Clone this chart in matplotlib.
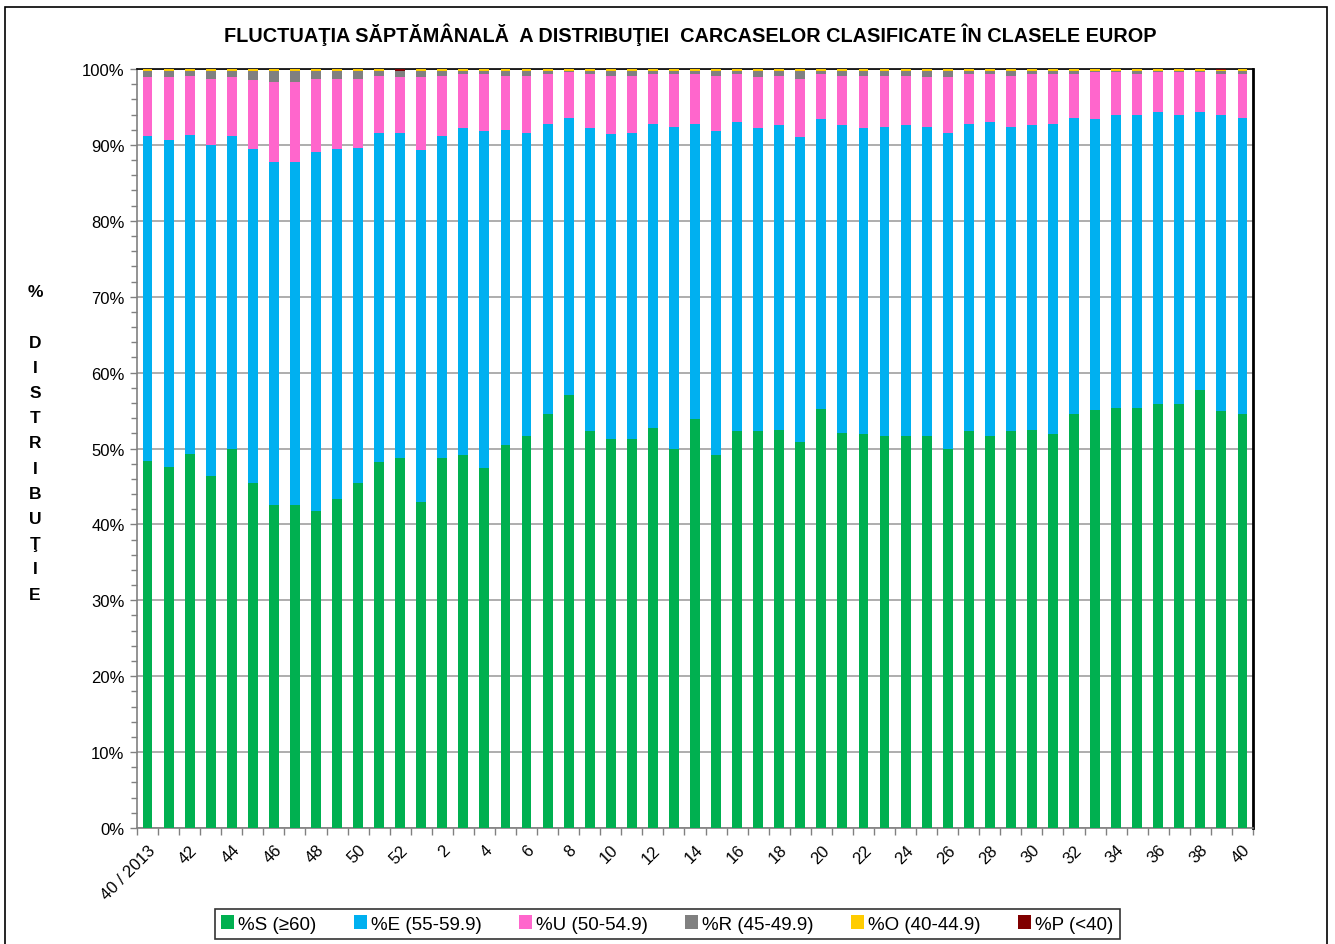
import matplotlib
matplotlib.use('Agg')
import matplotlib.pyplot as plt
import numpy as np
from matplotlib.patches import Rectangle
from matplotlib.ticker import MultipleLocator, FuncFormatter

plt.rcParams['font.family'] = ['Liberation Sans', 'DejaVu Sans']

# week labels: 40/2013 .. 52, then 1 .. 40 (2014)
weeks = [str(w) for w in range(40, 53)] + [str(w) for w in range(1, 41)]
weeks[0] = '40 / 2013'

pct_S = [48.4, 47.6, 49.3, 46.4, 50.0, 45.4, 42.6, 42.6, 41.8, 43.4,
         45.4, 48.2, 48.8, 43.0, 48.8, 49.2, 47.4, 50.4, 51.6, 54.5,
         57.1, 52.3, 51.2, 51.2, 52.7, 50.0, 53.9, 49.2, 52.3, 52.3,
         52.5, 50.9, 55.2, 52.1, 51.9, 51.6, 51.7, 51.6, 50.0, 52.3,
         51.6, 52.3, 52.5, 51.9, 54.5, 55.1, 55.3, 55.3, 55.9, 55.9,
         57.7, 54.9, 54.5]
pct_E = [42.8, 43.0, 42.0, 43.6, 41.2, 44.1, 45.2, 45.2, 47.2, 46.1,
         44.2, 43.4, 42.8, 46.3, 42.4, 43.0, 44.4, 41.6, 40.0, 38.3,
         36.5, 39.9, 40.2, 40.4, 40.1, 42.4, 38.9, 42.6, 40.7, 39.9,
         40.1, 40.1, 38.2, 40.5, 40.3, 40.8, 40.9, 40.8, 41.6, 40.5,
         41.4, 40.1, 40.1, 40.9, 39.1, 38.3, 38.7, 38.7, 38.4, 38.1,
         36.6, 39.1, 39.1]
pct_U = [7.7, 8.3, 7.8, 8.7, 7.7, 9.0, 10.5, 10.5, 9.7, 9.2,
         9.1, 7.5, 7.3, 9.6, 7.9, 7.1, 7.5, 7.1, 7.5, 6.5,
         6.0, 7.1, 7.7, 7.5, 6.5, 6.9, 6.5, 7.3, 6.3, 6.7,
         6.5, 7.7, 5.9, 6.5, 6.9, 6.7, 6.5, 6.5, 7.3, 6.5,
         6.3, 6.7, 6.7, 6.5, 5.7, 6.2, 5.6, 5.3, 5.3, 5.6,
         5.3, 5.3, 5.7]
pct_R = [0.8, 0.8, 0.7, 1.0, 0.8, 1.2, 1.4, 1.4, 1.0, 1.0,
         1.0, 0.7, 0.8, 0.8, 0.7, 0.5, 0.5, 0.7, 0.7, 0.5,
         0.2, 0.5, 0.7, 0.7, 0.5, 0.5, 0.5, 0.7, 0.5, 0.8,
         0.7, 1.0, 0.5, 0.7, 0.7, 0.7, 0.7, 0.8, 0.8, 0.5,
         0.5, 0.7, 0.5, 0.5, 0.5, 0.2, 0.2, 0.5, 0.2, 0.2,
         0.2, 0.5, 0.5]
pct_O = [0.3] * 53
pct_O[12] = 0.1
pct_O[51] = 0.1
pct_P = [0.0] * 53
pct_P[12] = 0.2
pct_P[51] = 0.2

series = [
    ('%S (≥60)', pct_S, '#00B050'),
    ('%E (55-59.9)', pct_E, '#00B0F0'),
    ('%U (50-54.9)', pct_U, '#FF66CC'),
    ('%R (45-49.9)', pct_R, '#808080'),
    ('%O (40-44.9)', pct_O, '#FFCC00'),
    ('%P (<40)', pct_P, '#800000'),
]

fig = plt.figure(figsize=(13.35, 9.45), dpi=100)
ax = fig.add_axes([137 / 1335, 1 - 829 / 945, (1253 - 137) / 1335, (829 - 70) / 945])

x = np.arange(len(weeks))
bottom = np.zeros(len(weeks))
for label, vals, color in series:
    vals = np.array(vals)
    ax.bar(x, vals, width=0.47, bottom=bottom, color=color, label=label,
           edgecolor='none', zorder=3)
    bottom += vals

ax.set_xlim(-0.5, len(weeks) - 0.5)
ax.set_ylim(0, 100)

# y axis
ax.yaxis.set_major_locator(MultipleLocator(10))
ax.yaxis.set_minor_locator(MultipleLocator(2))
ax.yaxis.set_major_formatter(FuncFormatter(lambda v, pos: f'{int(v)}%'))
ax.tick_params(axis='y', which='major', length=5, width=1, color='#808080',
               labelsize=12, pad=4)
ax.tick_params(axis='y', which='minor', length=4, width=1, color='#808080')
ax.grid(axis='y', which='major', color='#A0A0A0', linewidth=1.2, zorder=0)

# x axis: tick marks between categories, labels every 2nd week
ax.set_xticks(np.arange(-0.5, len(weeks), 1.0), minor=True)
ax.set_xticks(x[::2])
ax.set_xticklabels(weeks[::2], rotation=45, ha='right', va='top',
                   rotation_mode='anchor', fontsize=12)
ax.tick_params(axis='x', which='major', length=0, pad=10)
ax.tick_params(axis='x', which='minor', length=5, width=1, color='#808080')

ax.spines['left'].set_color('#808080')
ax.spines['bottom'].set_color('#808080')
ax.spines['top'].set_color('black')
ax.spines['right'].set_color('black')
for sp in ax.spines.values():
    sp.set_linewidth(1.2)
ax.spines['right'].set_linewidth(2)

fig.text(690 / 1335, 1 - 35 / 945,
         'FLUCTUAŢIA SĂPTĂMÂNALĂ  A DISTRIBUŢIEI  CARCASELOR CLASIFICATE ÎN CLASELE EUROP',
         ha='center', va='center', fontsize=14.3, fontweight='bold')

fig.text(35 / 1335, 1 - 444 / 945,
         '%\n\nD\nI\nS\nT\nR\nI\nB\nU\nŢ\nI\nE',
         ha='center', va='center', multialignment='center',
         fontsize=12.5, fontweight='bold', linespacing=1.85)

leg = fig.legend(loc='center', bbox_to_anchor=(667 / 1335, 1 - 925 / 945), ncol=6,
                 fontsize=13.5, frameon=True, fancybox=False, edgecolor='black',
                 handlelength=0.7, handleheight=0.7, handletextpad=0.2,
                 columnspacing=2.0, borderpad=0.35)
leg.get_frame().set_linewidth(1.2)

# outer chart border
fig.patches.append(Rectangle((5 / 1335, -0.01), (1327 - 5) / 1335, 1.01 - 8 / 945,
                             transform=fig.transFigure, fill=False,
                             edgecolor='black', linewidth=1.2))

fig.savefig('out.png', dpi=100)
